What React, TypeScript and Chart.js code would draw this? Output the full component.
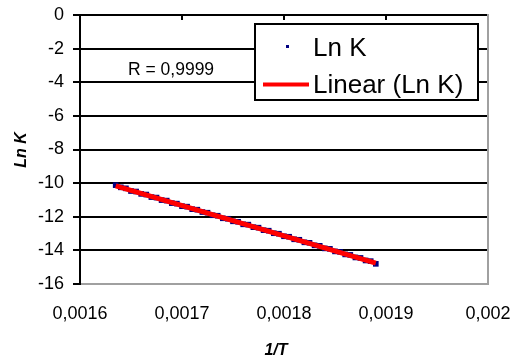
import React, { useEffect, useRef } from "react";
import { Chart, registerables } from "chart.js";

Chart.register(...registerables);

const invT: number[] = [
  0.001635, 0.00164, 0.001645, 0.00165, 0.001655, 0.00166, 0.001665, 0.00167,
  0.001675, 0.00168, 0.001685, 0.00169, 0.001695, 0.0017, 0.001705, 0.00171,
  0.001715, 0.00172, 0.001725, 0.00173, 0.001735, 0.00174, 0.001745, 0.00175,
  0.001755, 0.00176, 0.001765, 0.00177, 0.001775, 0.00178, 0.001785, 0.00179,
  0.001795, 0.0018, 0.001805, 0.00181, 0.001815, 0.00182, 0.001825, 0.00183,
  0.001835, 0.00184, 0.001845, 0.00185, 0.001855, 0.00186, 0.001865, 0.00187,
  0.001875, 0.00188, 0.001885, 0.00189,
];
const lnK: number[] = [
  -10.12, -10.25, -10.31, -10.47, -10.5, -10.64, -10.68, -10.83,
  -10.86, -11.01, -11.04, -11.19, -11.22, -11.37, -11.4, -11.55,
  -11.58, -11.72, -11.76, -11.91, -11.94, -12.09, -12.12, -12.27,
  -12.3, -12.45, -12.47, -12.62, -12.65, -12.8, -12.83, -12.98,
  -13.01, -13.16, -13.19, -13.34, -13.37, -13.52, -13.55, -13.7,
  -13.73, -13.88, -13.91, -14.06, -14.09, -14.24, -14.27, -14.42,
  -14.45, -14.6, -14.64, -14.8,
];
const xTitle = "1/T";
const yTitle = "Ln K";
const seriesName = "Ln K";
const trendName = "Linear (Ln K)";
const rLabel = "R = 0,9999";

const FONT = "'Liberation Sans', Arial, sans-serif";

function regression(xs: number[], ys: number[]) {
  const n = xs.length;
  const mx = xs.reduce((a, b) => a + b, 0) / n;
  const my = ys.reduce((a, b) => a + b, 0) / n;
  let sxy = 0;
  let sxx = 0;
  for (let i = 0; i < n; i++) {
    sxy += (xs[i] - mx) * (ys[i] - my);
    sxx += (xs[i] - mx) * (xs[i] - mx);
  }
  const slope = sxy / sxx;
  return { slope, intercept: my - slope * mx };
}

export default function App() {
  const ref = useRef<HTMLCanvasElement | null>(null);
  useEffect(() => {
    if (!ref.current) return;
    const pts = invT.map((x, i) => ({ x, y: lnK[i] }));
    const { slope, intercept } = regression(invT, lnK);
    const xMin = Math.min(...invT);
    const xMax = Math.max(...invT);
    const trend = [
      { x: xMin, y: intercept + slope * xMin },
      { x: xMax, y: intercept + slope * xMax },
    ];

    const overlay = {
      id: "overlay",
      afterDatasetsDraw(chart: any) {
        const ctx = chart.ctx;
        const ca = chart.chartArea;
        const xs = chart.scales.x;
        ctx.save();
        // right border
        ctx.strokeStyle = "#a0a0a0";
        ctx.lineWidth = 2;
        ctx.beginPath();
        ctx.moveTo(ca.right, ca.top - 1);
        ctx.lineTo(ca.right, ca.bottom + 1);
        ctx.stroke();
        // top axis tick marks
        ctx.strokeStyle = "#000";
        ctx.lineWidth = 2;
        xs.ticks.forEach((t: any) => {
          const px = xs.getPixelForValue(t.value);
          if (px <= ca.left + 2 || px >= ca.right - 2) return;
          ctx.beginPath();
          ctx.moveTo(px, ca.top);
          ctx.lineTo(px, ca.top + 5);
          ctx.stroke();
        });
        // R text
        ctx.fillStyle = "#000";
        ctx.font = `17.5px ${FONT}`;
        ctx.textAlign = "left";
        ctx.textBaseline = "middle";
        ctx.fillText(rLabel, 128, 70);
        // legend box
        ctx.fillStyle = "#fff";
        ctx.fillRect(255, 24, 223, 76);
        ctx.strokeStyle = "#000";
        ctx.lineWidth = 2;
        ctx.strokeRect(255, 24, 223, 76);
        ctx.fillStyle = "#000080";
        ctx.fillRect(286, 45, 3, 3);
        ctx.strokeStyle = "#ff0000";
        ctx.lineWidth = 4;
        ctx.beginPath();
        ctx.moveTo(263, 84.5);
        ctx.lineTo(309, 84.5);
        ctx.stroke();
        ctx.fillStyle = "#000";
        ctx.font = `26px ${FONT}`;
        ctx.fillText(seriesName, 313, 49);
        ctx.fillText(trendName, 313, 86);
        // titles
        ctx.font = `bold italic 16px ${FONT}`;
        ctx.textAlign = "center";
        ctx.fillText(xTitle, 276, 351);
        ctx.translate(22, 150);
        ctx.rotate(-Math.PI / 2);
        ctx.fillText(yTitle, 0, 0);
        ctx.restore();
      },
    };

    const chart = new Chart(ref.current, {
      type: "scatter",
      data: {
        datasets: [
          {
            label: trendName,
            data: trend,
            showLine: true,
            borderColor: "#ff0000",
            borderWidth: 5,
            pointRadius: 0,
            order: 0,
          } as any,
          {
            label: seriesName,
            data: pts,
            backgroundColor: "#000080",
            borderColor: "#000080",
            pointStyle: "rect",
            pointRadius: 4,
            borderWidth: 0,
            order: 1,
          } as any,
        ],
      },
      options: {
        responsive: false,
        animation: false,
        layout: { padding: 0 },
        plugins: { legend: { display: false }, tooltip: { enabled: false } },
        scales: {
          x: {
            type: "linear",
            min: 0.0016,
            max: 0.002,
            afterFit: (s: any) => {
              s.height = 78;
              s.paddingLeft = 0;
              s.paddingRight = 24;
            },
            afterBuildTicks: (s: any) => {
              s.ticks = [0.0016, 0.0017, 0.0018, 0.0019, 0.002].map((v) => ({ value: v }));
            },
            ticks: {
              color: "#000",
              font: { family: FONT, size: 18 },
              padding: 19,
              maxRotation: 0,
              callback: (v: any) => String(+Number(v).toFixed(4)).replace(".", ","),
            },
            grid: { display: false, drawTicks: false },
            border: { display: true, color: "#a0a0a0", width: 2 },
          },
          y: {
            type: "linear",
            min: -16,
            max: 0,
            afterFit: (s: any) => {
              s.width = 80;
              s.paddingTop = 15;
              s.paddingBottom = 0;
            },
            ticks: {
              stepSize: 2,
              color: "#000",
              font: { family: FONT, size: 18 },
              padding: 9,
              callback: (v: any) => String(v),
            },
            grid: {
              color: (c: any) => (c.tick && c.tick.value === -16 ? "#a0a0a0" : "#000"),
              tickColor: "#000",
              lineWidth: 2,
              tickLength: 7,
            },
            border: { display: true, color: "#000", width: 2 },
          },
        },
      },
      plugins: [overlay],
    });
    return () => chart.destroy();
  }, []);
  return (
    <div style={{ position: "fixed", left: 0, top: 0, width: 512, height: 362, background: "#fff" }}>
      <canvas ref={ref} width={512} height={362} style={{ width: 512, height: 362 }} />
    </div>
  );
}
